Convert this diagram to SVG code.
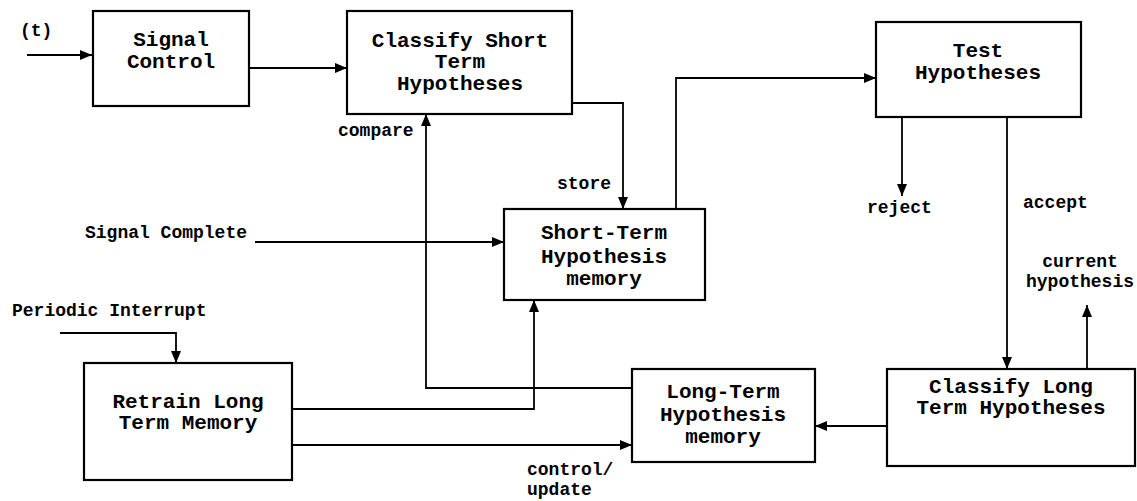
<svg xmlns="http://www.w3.org/2000/svg" width="1137" height="501" viewBox="0 0 1137 501">
<style>
  .box { fill: #ffffff; stroke: #000000; stroke-width: 2.2; }
  .t { font-family: "Liberation Mono", "Courier New", monospace; font-weight: bold; font-size: 21px; fill: #000; text-anchor: middle; }
  .l { font-family: "Liberation Mono", "Courier New", monospace; font-weight: bold; font-size: 18px; fill: #000; }
  .c { fill: none; stroke: #000; stroke-width: 1.8; marker-end: url(#ah); }
</style>
<defs>
  <marker id="ah" markerUnits="userSpaceOnUse" markerWidth="14" markerHeight="12" refX="12" refY="5" orient="auto">
    <path d="M0,0 L12,5 L0,10 Z" fill="#000"/>
  </marker>
</defs>
<rect width="1137" height="501" fill="#fff"/>
<g id="connectors">
  <path class="c" d="M27,55 H92"/>
  <path class="c" d="M249,68 H347"/>
  <path class="c" d="M572,103 H623 V209"/>
  <path class="c" d="M676,209 V78 H876"/>
  <path class="c" d="M255,242 H504"/>
  <path class="c" d="M902,117 V196"/>
  <path class="c" d="M1007,117 V369"/>
  <path class="c" d="M1087,369 V305"/>
  <path class="c" d="M887,426 H815"/>
  <path class="c" d="M632,388 H426 V114"/>
  <path class="c" d="M292,409 H534 V300"/>
  <path class="c" d="M292,445 H632"/>
  <path class="c" d="M60,333 H176 V363"/>
</g>
<g id="labels">
  <text class="l" x="20" y="36">(t)</text>
  <text class="l" x="338" y="136">compare</text>
  <text class="l" x="557" y="189">store</text>
  <text class="l" x="85" y="238">Signal Complete</text>
  <text class="l" x="12" y="316">Periodic Interrupt</text>
  <text class="l" x="867" y="213">reject</text>
  <text class="l" x="1023" y="208">accept</text>
  <text class="l" x="1080" y="267" text-anchor="middle">current</text>
  <text class="l" x="1080" y="287" text-anchor="middle">hypothesis</text>
  <text class="l" x="527" y="475">control/</text>
  <text class="l" x="527" y="495">update</text>
</g>
<g id="signal-control">
  <rect class="box" x="93" y="11" width="156" height="95"/>
  <text class="t" x="171" y="46">Signal</text>
  <text class="t" x="171" y="68">Control</text>
</g>
<g id="classify-short">
  <rect class="box" x="347" y="11" width="225" height="103"/>
  <text class="t" x="460" y="47">Classify Short</text>
  <text class="t" x="460" y="68">Term</text>
  <text class="t" x="460" y="90">Hypotheses</text>
</g>
<g id="test-hypotheses">
  <rect class="box" x="876" y="22" width="205" height="95"/>
  <text class="t" x="978" y="57">Test</text>
  <text class="t" x="978" y="79">Hypotheses</text>
</g>
<g id="short-term-memory">
  <rect class="box" x="504" y="209" width="201" height="91"/>
  <text class="t" x="604" y="239">Short-Term</text>
  <text class="t" x="604" y="263">Hypothesis</text>
  <text class="t" x="604" y="285">memory</text>
</g>
<g id="retrain-long-term">
  <rect class="box" x="84" y="363" width="208" height="117"/>
  <text class="t" x="188" y="408">Retrain Long</text>
  <text class="t" x="188" y="429">Term Memory</text>
</g>
<g id="long-term-memory">
  <rect class="box" x="632" y="369" width="183" height="93"/>
  <text class="t" x="723" y="398">Long-Term</text>
  <text class="t" x="723" y="421">Hypothesis</text>
  <text class="t" x="723" y="443">memory</text>
</g>
<g id="classify-long">
  <rect class="box" x="887" y="369" width="248" height="97"/>
  <text class="t" x="1011" y="393">Classify Long</text>
  <text class="t" x="1011" y="414">Term Hypotheses</text>
</g>
</svg>
